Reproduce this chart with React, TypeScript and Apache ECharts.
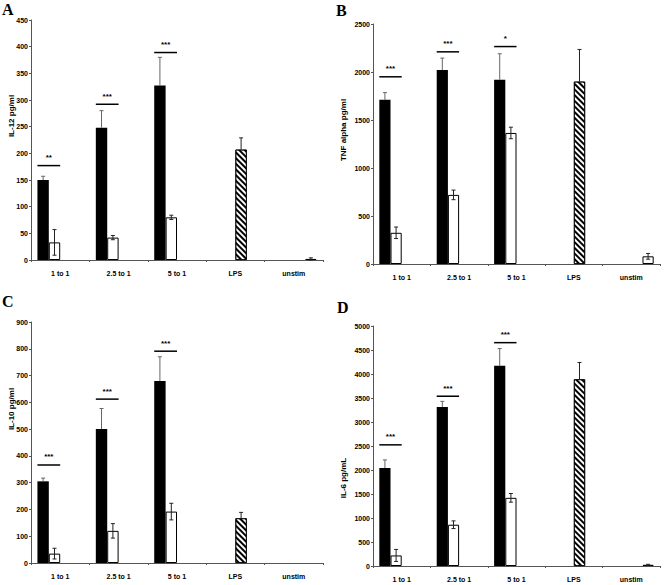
import React, { useEffect, useRef } from "react";
import * as echarts from "echarts";

const categories = ["1 to 1", "2.5 to 1", "5 to 1", "LPS", "unstim"];

// Panel A: IL-12
const aBlack = [150, 248, 327];
const aBlackErr = [7, 32, 53];
const aWhite = [33, 42, 80];
const aWhiteErr = [24, 4, 4];
const aLps = 207;
const aLpsErr = 22;
const aUnstim = 2;
const aUnstimErr = 2;
const aSigY = [177, 292, 389];
const aSigLabels = ["**", "***", "***"];

// Panel B: TNF alpha
const bBlack = [1710, 2020, 1920];
const bBlackErr = [75, 125, 270];
const bWhite = [325, 720, 1365];
const bWhiteErr = [60, 50, 60];
const bLps = 1900;
const bLpsErr = 335;
const bUnstim = 80;
const bUnstimErr = 30;
const bSigY = [1950, 2210, 2265];
const bSigLabels = ["***", "***", "*"];

// Panel C: IL-10
const cBlack = [305, 500, 680];
const cBlackErr = [12, 77, 90];
const cWhite = [35, 120, 192];
const cWhiteErr = [20, 27, 31];
const cLps = 167;
const cLpsErr = 22;
const cUnstim: number | null = null;
const cUnstimErr = 0;
const cSigY = [366, 612, 791];
const cSigLabels = ["***", "***", "***"];

// Panel D: IL-6
const dBlack = [2040, 3310, 4170];
const dBlackErr = [170, 120, 360];
const dWhite = [220, 860, 1420];
const dWhiteErr = [125, 80, 90];
const dLps = 3890;
const dLpsErr = 350;
const dUnstim = 25;
const dUnstimErr = 10;
const dSigY = [2524, 3537, 4653];
const dSigLabels = ["***", "***", "***"];

const yMax = [450, 2500, 900, 5000];
const yInterval = [50, 500, 100, 500];
const yNames = ["IL-12 pg/ml", "TNF alpha pg/ml", "IL-10 pg/ml", "IL-6 pg/mL"];
const letters = ["A", "B", "C", "D"];

const GAP = 0.22;
const FONT = "Liberation Sans";

type Panel = {
  black: number[]; blackErr: number[]; white: number[]; whiteErr: number[];
  lps: number; lpsErr: number; unstim: number | null; unstimErr: number;
  sigY: number[]; sigLabels: string[];
};

const panels: Panel[] = [
  { black: aBlack, blackErr: aBlackErr, white: aWhite, whiteErr: aWhiteErr, lps: aLps, lpsErr: aLpsErr, unstim: aUnstim, unstimErr: aUnstimErr, sigY: aSigY, sigLabels: aSigLabels },
  { black: bBlack, blackErr: bBlackErr, white: bWhite, whiteErr: bWhiteErr, lps: bLps, lpsErr: bLpsErr, unstim: bUnstim, unstimErr: bUnstimErr, sigY: bSigY, sigLabels: bSigLabels },
  { black: cBlack, blackErr: cBlackErr, white: cWhite, whiteErr: cWhiteErr, lps: cLps, lpsErr: cLpsErr, unstim: cUnstim, unstimErr: cUnstimErr, sigY: cSigY, sigLabels: cSigLabels },
  { black: dBlack, blackErr: dBlackErr, white: dWhite, whiteErr: dWhiteErr, lps: dLps, lpsErr: dLpsErr, unstim: dUnstim, unstimErr: dUnstimErr, sigY: dSigY, sigLabels: dSigLabels },
];

const grids = [
  { left: 31, top: 20, width: 292, height: 240 },
  { left: 373, top: 24, width: 287, height: 240 },
  { left: 31, top: 322, width: 292, height: 241 },
  { left: 373, top: 326, width: 287, height: 240 },
];

const titlePos = [
  [11, 116],
  [343, 130],
  [11, 409],
  [343, 478],
];
const letterPos = [
  [2, 1],
  [336, 2],
  [2, 293],
  [337, 299],
];

export default function App() {
  const ref = useRef<HTMLDivElement>(null);
  useEffect(() => {
    if (!ref.current) return;
    const chart = echarts.init(ref.current, null, { renderer: "svg" });

    const xAxis: any[] = [];
    const yAxis: any[] = [];
    const series: any[] = [];
    const graphic: any[] = [];

    panels.forEach((p, i) => {
      xAxis.push({
        type: "category",
        gridIndex: i,
        data: categories,
        axisLine: { lineStyle: { color: "#555", width: 1 } },
        axisTick: { show: true, length: 2, lineStyle: { color: "#555" } },
        axisLabel: { fontFamily: FONT, fontWeight: "bold", fontSize: 7, color: "#000", margin: 10 },
      });
      yAxis.push({
        type: "value",
        gridIndex: i,
        min: 0,
        max: yMax[i],
        interval: yInterval[i],
        splitLine: { show: false },
        axisLine: { show: true, lineStyle: { color: "#555", width: 1 } },
        axisTick: { show: true, length: 2, lineStyle: { color: "#555" } },
        axisLabel: {
          fontFamily: FONT,
          fontWeight: "bold",
          fontSize: 7,
          color: "#000",
          margin: 3,
          formatter: (v: number) => String(v),
        },
      });

      const common = { type: "bar", xAxisIndex: i, yAxisIndex: i, barGap: "0%", barCategoryGap: GAP * 100 + "%" };
      series.push({
        ...common,
        name: "black" + i,
        data: [...p.black, "-", "-"],
        itemStyle: { color: "#000" },
      });
      series.push({
        ...common,
        name: "white" + i,
        data: [...p.white, "-", "-"],
        itemStyle: { color: "#fff", borderColor: "#000", borderWidth: 1 },
      });
      series.push({
        ...common,
        name: "lps" + i,
        data: ["-", "-", "-", p.lps, "-"],
        itemStyle: {
          color: "#fff",
          borderColor: "#000",
          borderWidth: 0.8,
          decal: {
            symbol: "rect",
            symbolSize: 1,
            color: "#000",
            dashArrayX: [1, 0],
            dashArrayY: [2, 2],
            rotation: Math.PI / 4,
          },
        },
      });
      series.push({
        ...common,
        name: "unstim" + i,
        data: ["-", "-", "-", "-", p.unstim == null ? "-" : p.unstim],
        itemStyle: { color: "#fff", borderColor: "#000", borderWidth: 1 },
      });

      // error bars: [cat, value, err, slot, both]
      const errData: number[][] = [];
      p.black.forEach((v, k) => errData.push([k, v, p.blackErr[k], 0, 0]));
      p.white.forEach((v, k) => errData.push([k, v, p.whiteErr[k], 1, 1]));
      errData.push([3, p.lps, p.lpsErr, 2, 0]);
      if (p.unstim != null) errData.push([4, p.unstim, p.unstimErr, 3, 1]);

      series.push({
        type: "custom",
        xAxisIndex: i,
        yAxisIndex: i,
        z: 5,
        clip: false,
        silent: true,
        data: errData,
        renderItem: (params: any, api: any) => {
          const cat = api.value(0);
          const v = api.value(1);
          const e = api.value(2);
          const slot = api.value(3);
          const both = api.value(4);
          const base = api.coord([cat, v]);
          const bandW = api.size([1, 0])[0];
          const bw = (bandW * (1 - GAP)) / 4;
          const x = base[0] + (slot - 1.5) * bw;
          const yTop = api.coord([cat, v + e])[1];
          const yBot = both ? api.coord([cat, Math.max(0, v - e)])[1] : base[1];
          const color = slot === 0 ? "#666" : "#222";
          const cap = 2;
          const children: any[] = [
            { type: "line", shape: { x1: x, y1: yTop, x2: x, y2: yBot }, style: { stroke: color, lineWidth: 1 } },
            { type: "line", shape: { x1: x - cap, y1: yTop, x2: x + cap, y2: yTop }, style: { stroke: color, lineWidth: 1 } },
          ];
          if (both) {
            children.push({ type: "line", shape: { x1: x - cap, y1: yBot, x2: x + cap, y2: yBot }, style: { stroke: color, lineWidth: 1 } });
          }
          return { type: "group", children };
        },
      });

      // significance markers
      const labels = p.sigLabels;
      series.push({
        type: "custom",
        xAxisIndex: i,
        yAxisIndex: i,
        z: 6,
        clip: false,
        silent: true,
        data: p.sigY.map((y, k) => [k, y]),
        renderItem: (params: any, api: any) => {
          const cat = api.value(0);
          const y = api.value(1);
          const base = api.coord([cat, y]);
          const bandW = api.size([1, 0])[0];
          const bw = (bandW * (1 - GAP)) / 4;
          const x1 = base[0] - 2 * bw;
          const x2 = base[0];
          return {
            type: "group",
            children: [
              { type: "line", shape: { x1, y1: base[1], x2, y2: base[1] }, style: { stroke: "#000", lineWidth: 1.5 } },
              {
                type: "text",
                x: (x1 + x2) / 2,
                y: base[1] - 4,
                style: {
                  text: labels[params.dataIndex],
                  fontFamily: FONT,
                  fontWeight: "bold",
                  fontSize: 8,
                  fill: "#000",
                  align: "center",
                  verticalAlign: "bottom",
                },
              },
            ],
          };
        },
      });

      graphic.push({
        type: "text",
        x: titlePos[i][0],
        y: titlePos[i][1],
        rotation: Math.PI / 2,
        style: {
          text: yNames[i],
          fontFamily: FONT,
          fontWeight: "bold",
          fontSize: 8,
          fill: "#000",
          align: "center",
          verticalAlign: "middle",
        },
      });
      graphic.push({
        type: "text",
        left: letterPos[i][0],
        top: letterPos[i][1],
        style: {
          text: letters[i],
          fontFamily: "Liberation Serif",
          fontWeight: "bold",
          fontSize: 16,
          fill: "#000",
        },
      });
    });

    chart.setOption({
      animation: false,
      backgroundColor: "#fff",
      grid: grids,
      xAxis,
      yAxis,
      series,
      graphic,
    });
    return () => chart.dispose();
  }, []);

  return <div ref={ref} style={{ width: 664, height: 585, position: "absolute", left: 0, top: 0 }} />;
}
